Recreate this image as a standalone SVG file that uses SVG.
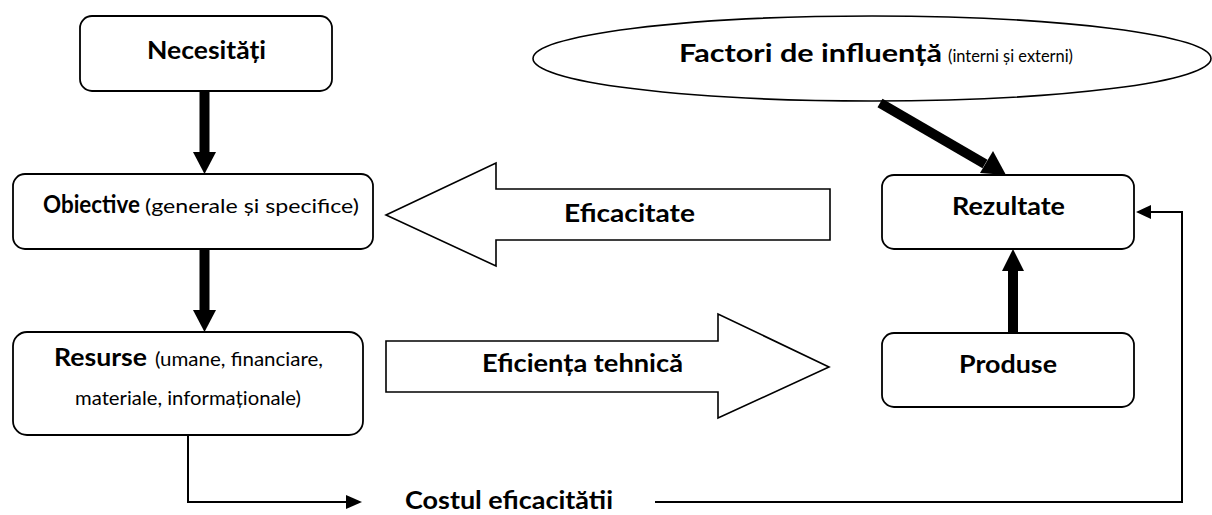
<svg xmlns="http://www.w3.org/2000/svg" width="1212" height="515" viewBox="0 0 1212 515">
<style>
.box{fill:#fff;stroke:#000;stroke-width:1.8}
.big{fill:#fff;stroke:#000;stroke-width:1.6}
text{font-family:Lato,"Open Sans","Liberation Sans",sans-serif;fill:#000}
.b{font-weight:bold;font-size:25px}
.s{font-weight:normal;font-size:19px}
.thin{fill:none;stroke:#000;stroke-width:2}
</style>
<g id="necesitati"><rect class="box" x="80" y="16" width="252" height="75" rx="12"/><text class="b" x="147" y="59" textLength="119" lengthAdjust="spacingAndGlyphs">Necesități</text></g>
<g id="obiective"><rect class="box" x="13" y="174" width="360" height="75" rx="12"/><text class="b" x="43" y="213" textLength="97" lengthAdjust="spacingAndGlyphs" style="font-size:24px">Obiective</text><text class="s" x="145" y="213" textLength="214" lengthAdjust="spacingAndGlyphs">(generale și specifice)</text></g>
<g id="resurse"><rect class="box" x="13" y="332" width="350" height="103" rx="14"/><text class="b" x="54" y="366" textLength="93" lengthAdjust="spacingAndGlyphs">Resurse</text><text class="s" x="155" y="366" textLength="168" lengthAdjust="spacingAndGlyphs">(umane, financiare,</text><text class="s" x="75" y="405" textLength="226" lengthAdjust="spacingAndGlyphs">materiale, informaționale)</text></g>
<g id="factori"><ellipse class="big" cx="872" cy="58.5" rx="339" ry="42.5"/><text class="b" x="679" y="62" textLength="263" lengthAdjust="spacingAndGlyphs">Factori de influență</text><text class="s" x="948" y="62" textLength="125" lengthAdjust="spacingAndGlyphs" style="font-size:17px">(interni și externi)</text></g>
<g id="rezultate"><rect class="box" x="882" y="175" width="252" height="74" rx="12"/><text class="b" x="952" y="215" textLength="113" lengthAdjust="spacingAndGlyphs">Rezultate</text></g>
<g id="produse"><rect class="box" x="882" y="333" width="252" height="74" rx="12"/><text class="b" x="959" y="373" textLength="98" lengthAdjust="spacingAndGlyphs">Produse</text></g>
<g id="eficacitate"><polygon class="big" points="386,215 496,163 496,189 830,189 830,240 496,240 496,266"/><text class="b" x="564" y="222" textLength="131" lengthAdjust="spacingAndGlyphs">Eficacitate</text></g>
<g id="eficienta"><polygon class="big" points="386,341 718,341 718,314 829,367 718,418 718,392 386,392"/><text class="b" x="482" y="372" textLength="201" lengthAdjust="spacingAndGlyphs">Eficiența tehnică</text></g>
<g id="costul"><text class="b" x="405" y="509" textLength="208" lengthAdjust="spacingAndGlyphs">Costul eficacitătii</text></g>
<g id="connectors">
<line x1="204.5" y1="91" x2="204.5" y2="153" stroke="#000" stroke-width="10"/>
<polygon points="193,152 216,152 204.5,174" fill="#000"/>
<line x1="204.5" y1="249" x2="204.5" y2="311" stroke="#000" stroke-width="10"/>
<polygon points="193,310 216,310 204.5,332" fill="#000"/>
<line x1="1013" y1="333" x2="1013" y2="269" stroke="#000" stroke-width="10"/>
<polygon points="1002,271 1024,271 1013,249" fill="#000"/>
<line x1="880" y1="103" x2="985" y2="164" stroke="#000" stroke-width="10"/>
<polygon points="1006,175 980,173 993,151" fill="#000"/>
<polyline class="thin" points="188,435 188,502 347,502"/>
<polygon points="346,495 362,502 346,509" fill="#000"/>
<polyline class="thin" points="655,502 1182,502 1182,212 1150,212"/>
<polygon points="1151,205 1136,212 1151,219" fill="#000"/>
</g>
</svg>
